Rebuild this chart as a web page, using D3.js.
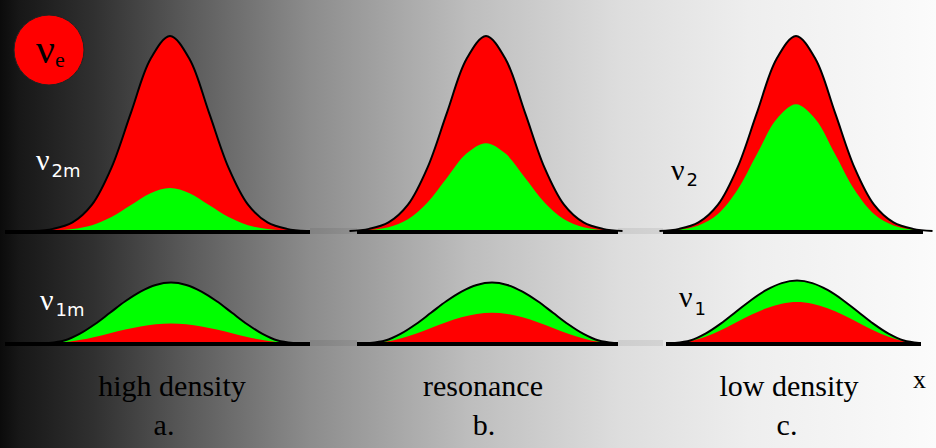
<!DOCTYPE html>
<html>
<head>
<meta charset="utf-8">
<script src="https://cdn.jsdelivr.net/npm/d3@7"></script>
<style>
html,body{margin:0;padding:0;background:#fff;}
svg{display:block;}
</style>
</head>
<body>
<svg id="chart" width="936" height="448"></svg>
<script>
// ---------------- data ----------------
const panelNames   = ["high density", "resonance", "low density"];
const panelLetters = ["a.", "b.", "c."];
// upper wave-packet profile (offset in packet widths -> relative height)
const upperOffset = [-3.5, -3, -2.5, -2, -1.5, -1, -0.5, 0, 0.5, 1, 1.5, 2, 2.5, 3, 3.5];
const upperShape  = [0, 0.011, 0.044, 0.135, 0.325, 0.607, 0.882, 1, 0.882, 0.607, 0.325, 0.135, 0.044, 0.011, 0];
// lower wave-packet profile (offset in half-extents -> relative height)
const lowerOffset = [-1, -0.875, -0.75, -0.625, -0.5, -0.375, -0.25, -0.125, 0, 0.125, 0.25, 0.375, 0.5, 0.625, 0.75, 0.875, 1];
const lowerShape  = [0, 0.04, 0.15, 0.31, 0.5, 0.69, 0.85, 0.96, 1, 0.96, 0.85, 0.69, 0.5, 0.31, 0.15, 0.04, 0];
// upper state (nu_2m / nu_2): total packet and its nu_mu (green) part
const upperTotal = [1.00, 1.00, 1.00];
const upperGreen = [0.22, 0.45, 0.65];
// lower state (nu_1m / nu_1): total packet and its nu_e (red) part
const lowerTotal = [0.31, 0.31, 0.32];
const lowerRed   = [0.10, 0.155, 0.21];
const upperLabels = [{nu: "ν", sub: "2m", color: "#fff"}, null, {nu: "ν", sub: "2", color: "#000"}];
const lowerLabels = [{nu: "ν", sub: "1m", color: "#fff"}, null, {nu: "ν", sub: "1", color: "#000"}];

// ---------------- layout ----------------
const W = 936, H = 448;
const svg = d3.select("#chart");
const defs = svg.append("defs");
const grad = defs.append("linearGradient").attr("id", "bg").attr("x1", "0%").attr("x2", "100%").attr("y1", "0%").attr("y2", "0%");
[["0%", "#0b0b0b"], ["2%", "#171717"], ["10%", "#303030"], ["20%", "#5a5a5a"], ["33%", "#8c8c8c"],
 ["50%", "#bdbdbd"], ["66%", "#dddddd"], ["80%", "#eeeeee"], ["100%", "#fbfbfb"]]
  .forEach(([o, c]) => grad.append("stop").attr("offset", o).attr("stop-color", c));
svg.append("rect").attr("width", W).attr("height", H).attr("fill", "url(#bg)");

const upperCenter = [170, 486, 796];
const lowerCenter = [171, 492, 797];
const upperBase = [[5, 310], [357, 618], [663, 923]];
const lowerBase = [[5, 310], [357, 618], [666, 921]];
const yUpper = d3.scaleLinear().domain([0, 1]).range([231, 36]);
const yLower = d3.scaleLinear().domain([0, 1]).range([343, 148]);

// gap patches between panels (faint)
[[310, 357], [618, 663]].forEach(([a, b]) => {
  [231, 343].forEach(y => {
    svg.append("rect").attr("x", a).attr("y", y - 3).attr("width", b - a).attr("height", 6)
      .attr("fill", "#000").attr("opacity", 0.07);
  });
});

function drawPacket(offsets, shape, cx, halfW, y, total, inner, outerColor, innerColor, base) {
  const pts = offsets.map((o, i) => ({o, h: shape[i]}));
  const x = d3.scaleLinear().domain([-1, 1]).range([cx - halfW, cx + halfW]);
  const areaFor = k => d3.area().curve(d3.curveCatmullRom.alpha(0.5))
    .x(d => x(d.o)).y0(y(0)).y1(d => y(d.h * k));
  svg.append("path").datum(pts).attr("d", areaFor(total)).attr("fill", outerColor);
  svg.append("path").datum(pts).attr("d", areaFor(inner)).attr("fill", innerColor);
  const line = d3.line().curve(d3.curveCatmullRom.alpha(0.5)).x(d => x(d.o)).y(d => y(d.h * total));
  svg.append("path").datum(pts).attr("d", line).attr("fill", "none").attr("stroke", "#000").attr("stroke-width", 2);
  svg.append("line").attr("x1", base[0]).attr("x2", base[1]).attr("y1", y(0) + 1).attr("y2", y(0) + 1)
    .attr("stroke", "#000").attr("stroke-width", 4);
}

panelNames.forEach((name, i) => {
  drawPacket(upperOffset, upperShape, upperCenter[i], 39, yUpper, upperTotal[i], upperGreen[i], "#ff0000", "#00ff00", upperBase[i]);
  drawPacket(lowerOffset, lowerShape, lowerCenter[i], 122, yLower, lowerTotal[i], lowerRed[i], "#00ff00", "#ff0000", lowerBase[i]);
});

// state labels
function stateLabel(lbl, x, y, nuSize, subSize, subDy) {
  if (!lbl) return;
  const t = svg.append("text").attr("x", x).attr("y", y).attr("fill", lbl.color);
  t.append("tspan").attr("font-family", "Liberation Serif, serif").attr("font-size", nuSize).text(lbl.nu);
  t.append("tspan").attr("font-family", "DejaVu Sans, sans-serif").attr("font-size", subSize)
    .attr("dx", 2).attr("dy", subDy).text(lbl.sub);
}
stateLabel(upperLabels[0], 36, 170, 30, 18, 7);
stateLabel(lowerLabels[0], 40, 310, 30, 18, 6);
stateLabel(upperLabels[2], 671, 180, 30, 18, 6);
stateLabel(lowerLabels[2], 679, 307, 30, 18, 8);

// nu_e circle
svg.append("circle").attr("cx", 49).attr("cy", 50).attr("r", 35).attr("fill", "#ff0000")
  .attr("stroke", "#222").attr("stroke-width", 1);
const ce = svg.append("text").attr("x", 36).attr("y", 63).attr("fill", "#000").attr("font-family", "Liberation Serif, serif");
ce.append("tspan").attr("font-size", 42).text("ν");
ce.append("tspan").attr("font-size", 22).attr("dx", 0).attr("dy", 4).text("e");

// panel names & letters
const nameCenter = [172, 483, 789];
const letterCenter = [164, 484, 787];
panelNames.forEach((name, i) => {
  svg.append("text").attr("x", nameCenter[i]).attr("y", 396).attr("text-anchor", "middle")
    .attr("font-family", "Liberation Serif, serif").attr("font-size", 30).attr("fill", "#000").text(name);
  svg.append("text").attr("x", letterCenter[i]).attr("y", 435).attr("text-anchor", "middle")
    .attr("font-family", "Liberation Serif, serif").attr("font-size", 30).attr("fill", "#000").text(panelLetters[i]);
});
svg.append("text").attr("x", 913).attr("y", 388).attr("font-family", "Liberation Serif, serif")
  .attr("font-size", 26).attr("fill", "#000").text("x");
</script>
</body>
</html>
